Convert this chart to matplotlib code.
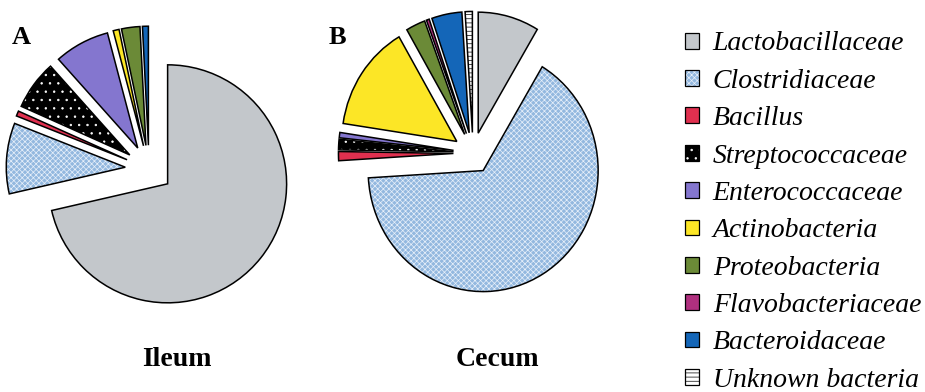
import matplotlib
matplotlib.use("Agg")
import matplotlib.pyplot as plt
from matplotlib.patches import Patch

# families, clockwise from 12 o'clock
families = ["Lactobacillaceae", "Clostridiaceae", "Bacillus", "Streptococcaceae",
            "Enterococcaceae", "Actinobacteria", "Proteobacteria",
            "Flavobacteriaceae", "Bacteroidaceae", "Unknown bacteria"]
# percent of clones
ileum = [71.4, 9.6, 0.7, 6.7, 7.5, 0.8, 2.5, 0.0, 0.8, 0.0]
cecum = [8.5, 64.8, 1.2, 1.4, 0.7, 14.1, 2.7, 0.4, 4.2, 1.0]

colors = ["#c3c7cb", "#93b8df", "#e0304f", "#000000", "#8476cf",
          "#fce626", "#6b8a37", "#b0307f", "#1466b8", "#ffffff"]
hatches = [None, "xxxxxx", None, "..", None, None, None, None, None, "----"]
hatch_cols = ["none", "#e8f0fa", "none", "white", "none",
              "none", "none", "none", "none", "black"]

plt.rcParams["hatch.linewidth"] = 0.5
serif = ["Liberation Serif", "DejaVu Serif"]

W, H = 925, 392
fig = plt.figure(figsize=(W / 100, H / 100), dpi=100)


def add_pie(values, cx, cy, sx, sy, explode):
    # cx, cy: pie centre in pixels from top-left, sx/sy: pixels per radius
    lim = 1.3
    ax = fig.add_axes([(cx - lim * sx) / W, (H - cy - lim * sy) / H,
                       2 * lim * sx / W, 2 * lim * sy / H])
    idx = [i for i, v in enumerate(values) if v > 0]
    vals = [values[i] for i in idx]
    ex = [explode] * len(vals)
    fills, _ = ax.pie(vals, colors=[colors[i] for i in idx], explode=ex,
                      startangle=90, counterclock=False,
                      wedgeprops=dict(linewidth=0))
    for w, i in zip(fills, idx):
        w.set_hatch(hatches[i])
        w.set_edgecolor(hatch_cols[i])
    ax.pie(vals, explode=ex, startangle=90, counterclock=False,
           wedgeprops=dict(fill=False, edgecolor="black", linewidth=1.1))
    ax.set_aspect("auto")
    ax.set_xlim(-lim, lim)
    ax.set_ylim(-lim, lim)
    ax.axis("off")
    return ax


add_pie(ileum, 149, 169, 119, 119, 0.2)
add_pie(cecum, 473, 153, 115, 121, 0.17)

fig.text(21 / W, 1 - 38 / H, "A", family=serif, weight="bold", fontsize=19,
         ha="center", va="center")
fig.text(337 / W, 1 - 38 / H, "B", family=serif, weight="bold", fontsize=19,
         ha="center", va="center")
fig.text(177 / W, 1 - 360 / H, "Ileum", family=serif, weight="bold",
         fontsize=20, ha="center", va="center")
fig.text(497 / W, 1 - 360 / H, "Cecum", family=serif, weight="bold",
         fontsize=20, ha="center", va="center")

handles = []
for c, h, hc in zip(colors, hatches, hatch_cols):
    handles.append((Patch(facecolor=c, edgecolor=hc, hatch=h, linewidth=0),
                    Patch(fill=False, edgecolor="black", linewidth=0.9)))

fig.legend(handles, families, loc="upper left",
           bbox_to_anchor=(685 / W, 1 - 31.5 / H), frameon=False,
           prop=dict(family=serif, style="italic", size=20),
           handlelength=0.5, handleheight=0.5, handletextpad=0.5,
           labelspacing=0.445, borderpad=0, borderaxespad=0)

fig.savefig("out.png", dpi=100)
